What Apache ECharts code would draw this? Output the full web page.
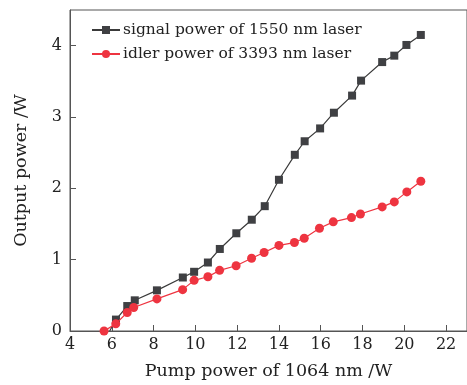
<!DOCTYPE html>
<html>
<head>
<meta charset="utf-8">
<script src="https://cdn.jsdelivr.net/npm/echarts@6/dist/echarts.min.js"></script>
<style>html,body{margin:0;padding:0;background:#fff;}#c{width:467px;height:385px;}</style>
</head>
<body>
<div id="c"></div>
<script>
const signalName = 'signal power of 1550 nm laser';
const idlerName = 'idler power of 3393 nm laser';
const signalPump = [5.9, 6.2, 6.74, 7.1, 8.16, 9.4, 9.94, 10.6, 11.17, 11.96, 12.7, 13.32, 14.0, 14.76, 15.23, 15.97, 16.63, 17.5, 17.93, 18.94, 19.52, 20.1, 20.79];
const signalPower = [0, 0.16, 0.35, 0.43, 0.57, 0.75, 0.83, 0.96, 1.15, 1.37, 1.56, 1.75, 2.12, 2.47, 2.66, 2.84, 3.06, 3.30, 3.51, 3.77, 3.86, 4.01, 4.15];
const idlerPump = [5.63, 6.19, 6.74, 7.05, 8.16, 9.39, 9.94, 10.6, 11.16, 11.95, 12.69, 13.29, 14.0, 14.74, 15.21, 15.94, 16.6, 17.47, 17.9, 18.94, 19.52, 20.12, 20.79];
const idlerPower = [0, 0.10, 0.26, 0.33, 0.45, 0.58, 0.71, 0.76, 0.85, 0.915, 1.02, 1.10, 1.20, 1.24, 1.30, 1.44, 1.53, 1.59, 1.64, 1.74, 1.81, 1.95, 2.10];
const xTicks = [4, 6, 8, 10, 12, 14, 16, 18, 20, 22];
const yTicks = [0, 1, 2, 3, 4];

const font = 'DejaVu Serif';
const axisCol = '#555';
const txtCol = '#222';
const chart = echarts.init(document.getElementById('c'));
chart.setOption({
  animation: false,
  backgroundColor: '#fff',
  textStyle: { fontFamily: font },
  grid: { left: 70, top: 10, width: 401.5, height: 323, show: true, borderColor: axisCol, borderWidth: 1, backgroundColor: 'transparent' },
  legend: {
    orient: 'vertical', left: 86, top: 17, itemWidth: 28, itemHeight: 10, itemGap: 8,
    textStyle: { fontFamily: font, fontSize: 15.5, color: txtCol, padding: [0, 0, 0, -2] },
    data: [signalName, idlerName]
  },
  xAxis: {
    type: 'value', min: 4, max: 23, interval: 2,
    name: 'Pump power of 1064 nm /W', nameLocation: 'middle', nameGap: 31,
    nameTextStyle: { fontFamily: font, fontSize: 17.5, color: txtCol },
    axisLine: { lineStyle: { color: axisCol, width: 1 } },
    axisTick: { inside: true, length: 6, lineStyle: { color: axisCol } },
    axisLabel: { fontFamily: font, fontSize: 16, color: txtCol, margin: 6, showMaxLabel: false,
      formatter: v => xTicks.includes(v) ? String(v) : '' },
    splitLine: { show: false }
  },
  yAxis: {
    type: 'value', min: 0, max: 4.5, interval: 1,
    name: 'Output power /W', nameLocation: 'middle', nameGap: 40, nameRotate: 90,
    nameTextStyle: { fontFamily: font, fontSize: 17.5, color: txtCol },
    axisLine: { show: true, lineStyle: { color: axisCol, width: 1 } },
    axisTick: { show: true, inside: true, length: 6, lineStyle: { color: axisCol } },
    axisLabel: { fontFamily: font, fontSize: 16, color: txtCol, margin: 8, showMaxLabel: false,
      formatter: v => yTicks.includes(v) ? String(v) : '' },
    splitLine: { show: false }
  },
  series: [
    {
      name: signalName, type: 'line', symbol: 'rect', symbolSize: 8,
      data: signalPump.map((x, i) => i === 0 ? { value: [x, signalPower[i]], symbolSize: 0 } : [x, signalPower[i]]),
      lineStyle: { color: '#3a3a3a', width: 1.2 },
      itemStyle: { color: '#3f4043' },
      z: 2
    },
    {
      name: idlerName, type: 'line', symbol: 'circle', symbolSize: 9,
      data: idlerPump.map((x, i) => [x, idlerPower[i]]),
      lineStyle: { color: '#ee3440', width: 1.2 },
      itemStyle: { color: '#ee3440' },
      z: 3
    }
  ]
});
</script>
</body>
</html>
